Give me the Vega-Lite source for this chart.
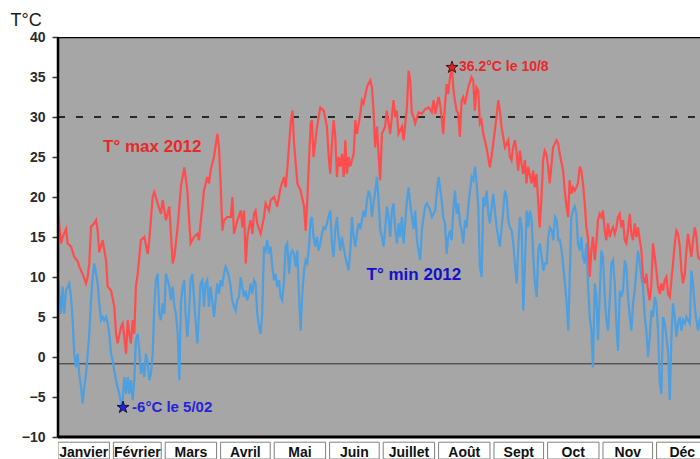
{
  "$schema": "https://vega.github.io/schema/vega-lite/v6.json",
  "width": 642,
  "height": 422,
  "autosize": {"type": "none"},
  "padding": {"left": 58, "top": 37, "right": 0, "bottom": 0},
  "background": "white",
  "config": {
    "view": {"stroke": null},
    "font": "Liberation Sans",
    "axis": {"labelFontWeight": 700},
    "axisY": {
      "domain": false, "grid": false,
      "ticks": true, "tickSize": 6, "tickColor": "#333333", "tickWidth": 1.5,
      "labelFont": "Liberation Sans", "labelFontSize": 14, "labelFontWeight": 700, "labelColor": "#2a2a2a", "labelPadding": 7,
      "titleAngle": 0, "titleX": -48, "titleY": -12, "titleAlign": "left", "titleBaseline": "alphabetic",
      "titleFont": "Liberation Sans", "titleFontSize": 18, "titleFontWeight": "normal", "titleColor": "#1a1a1a"
    }
  },
  "datasets": {
    "tmax": [
      {"day":0,"temp":18.3},{"day":1.7,"temp":14.2},{"day":2.6,"temp":15},{"day":4.5,"temp":16},{"day":5.4,"temp":14.2},{"day":7.3,"temp":13.8},{"day":9.1,"temp":12.5},{"day":11,"temp":12},{"day":11.9,"temp":11.3},{"day":13.8,"temp":10.4},{"day":15.7,"temp":9.2},{"day":16.6,"temp":10},{"day":17.5,"temp":11.7},{"day":18.5,"temp":16.3},{"day":20.3,"temp":16.7},{"day":21.3,"temp":17.1},{"day":22.2,"temp":15.8},{"day":23.1,"temp":13.1},{"day":25,"temp":14.6},{"day":26.9,"temp":12.1},{"day":27.8,"temp":8.8},{"day":29.7,"temp":8.3},{"day":31.5,"temp":6.3},{"day":32.5,"temp":2.9},{"day":33.4,"temp":1.7},{"day":35.3,"temp":3.8},{"day":36.2,"temp":4.2},{"day":37.1,"temp":2.5},{"day":38.1,"temp":0.4},{"day":39,"temp":4.6},{"day":39.9,"temp":2.9},{"day":40.8,"temp":1.7},{"day":41.8,"temp":4.6},{"day":42.7,"temp":2.9},{"day":43.6,"temp":8.8},{"day":44.6,"temp":10.4},{"day":46.4,"temp":14.6},{"day":48.3,"temp":15},{"day":50.2,"temp":12.9},{"day":51.1,"temp":14.6},{"day":53,"temp":20},{"day":53.9,"temp":20.6},{"day":55.8,"temp":19.2},{"day":57.6,"temp":17.9},{"day":58.6,"temp":19.6},{"day":60.4,"temp":17.1},{"day":62.3,"temp":18.8},{"day":63.2,"temp":15.4},{"day":64.2,"temp":11.7},{"day":65.1,"temp":12.5},{"day":67,"temp":16.3},{"day":68.8,"temp":21.3},{"day":70.7,"temp":23.7},{"day":72.4,"temp":20.8},{"day":74.2,"temp":14.2},{"day":76.1,"temp":15},{"day":78,"temp":15.4},{"day":78.9,"temp":14.6},{"day":79.8,"temp":16.7},{"day":81.7,"temp":20.8},{"day":83.5,"temp":22.5},{"day":84.5,"temp":21.7},{"day":85.4,"temp":23.3},{"day":87.3,"temp":25},{"day":89.2,"temp":27.9},{"day":90.1,"temp":26.2},{"day":91,"temp":21.7},{"day":92,"temp":15.8},{"day":92.9,"temp":17.1},{"day":94.8,"temp":17.5},{"day":96.7,"temp":17.5},{"day":97.6,"temp":20},{"day":98.5,"temp":15.4},{"day":100.4,"temp":17.1},{"day":102.3,"temp":18.3},{"day":103.2,"temp":16.2},{"day":104.1,"temp":18.3},{"day":105.1,"temp":11.7},{"day":106,"temp":15},{"day":106.9,"temp":16.2},{"day":107.8,"temp":17.1},{"day":108.8,"temp":15.4},{"day":109.7,"temp":17.9},{"day":110.6,"temp":18.3},{"day":111.5,"temp":16.7},{"day":113.4,"temp":15.4},{"day":115.3,"temp":17.5},{"day":116.2,"temp":19.2},{"day":118.1,"temp":18.3},{"day":119,"temp":19.6},{"day":120.9,"temp":20},{"day":122.7,"temp":18.8},{"day":124.6,"temp":21.2},{"day":126.5,"temp":22.5},{"day":127.4,"temp":21.2},{"day":128.4,"temp":23.7},{"day":130.2,"temp":29.2},{"day":131.2,"temp":30.8},{"day":132.1,"temp":26.7},{"day":134,"temp":21.7},{"day":135.8,"temp":20.8},{"day":137.7,"temp":18.8},{"day":138.6,"temp":15.8},{"day":139.6,"temp":20},{"day":141.4,"temp":29.2},{"day":142.1,"temp":29.6},{"day":143,"temp":25},{"day":145,"temp":28.8},{"day":146.8,"temp":31.2},{"day":148.7,"temp":30.8},{"day":150.5,"temp":28.8},{"day":151.5,"temp":25},{"day":152.4,"temp":22.9},{"day":153.3,"temp":26.7},{"day":154.3,"temp":29.6},{"day":155.2,"temp":27.5},{"day":156.1,"temp":22.5},{"day":157,"temp":25},{"day":158,"temp":23.8},{"day":158.9,"temp":25.4},{"day":159.9,"temp":22.5},{"day":160.8,"temp":27.1},{"day":161.7,"temp":22.9},{"day":162.7,"temp":25},{"day":163.6,"temp":23.8},{"day":164.5,"temp":24.6},{"day":165.5,"temp":25.4},{"day":166.4,"temp":29.6},{"day":167.3,"temp":27.9},{"day":169.2,"temp":30.4},{"day":170.1,"temp":32.1},{"day":171,"temp":31.7},{"day":172.9,"temp":33.7},{"day":173.8,"temp":34.2},{"day":174.8,"temp":34.6},{"day":175.7,"temp":33.7},{"day":176.6,"temp":30.8},{"day":177.5,"temp":26.2},{"day":178.5,"temp":28.8},{"day":179.4,"temp":25.4},{"day":180.3,"temp":22.1},{"day":181.3,"temp":27.9},{"day":183.1,"temp":28.8},{"day":184,"temp":30.8},{"day":185.9,"temp":27.9},{"day":187.8,"temp":32.1},{"day":188.7,"temp":30},{"day":189.6,"temp":30.8},{"day":190.6,"temp":27.9},{"day":192.5,"temp":28.8},{"day":193.4,"temp":27.1},{"day":195.3,"temp":31.2},{"day":196.2,"temp":35.8},{"day":197.1,"temp":34.6},{"day":198,"temp":30.6},{"day":199,"temp":30},{"day":199.9,"temp":29.2},{"day":201.8,"temp":30.6},{"day":203.6,"temp":30.4},{"day":205.5,"temp":31},{"day":207.4,"temp":31.2},{"day":209.2,"temp":30.6},{"day":210.2,"temp":32.1},{"day":211.1,"temp":30.4},{"day":213,"temp":32.5},{"day":213.9,"temp":31.5},{"day":214.7,"temp":30},{"day":215.6,"temp":27.9},{"day":216.6,"temp":31.6},{"day":217.5,"temp":34.1},{"day":218.4,"temp":32.9},{"day":219.4,"temp":35},{"day":220.5,"temp":36.2},{"day":221.2,"temp":33.7},{"day":222.1,"temp":32.1},{"day":223.1,"temp":30.8},{"day":224,"temp":30.4},{"day":224.9,"temp":27.5},{"day":225.9,"temp":32.1},{"day":226.8,"temp":32.5},{"day":227.7,"temp":31.6},{"day":229.6,"temp":33.7},{"day":231.4,"temp":35},{"day":232.4,"temp":34.6},{"day":233.3,"temp":30.8},{"day":234.2,"temp":33.7},{"day":235.2,"temp":33.3},{"day":236.1,"temp":29.2},{"day":237,"temp":29.6},{"day":238,"temp":27.9},{"day":239.8,"temp":26.2},{"day":241.7,"temp":23.7},{"day":242.6,"temp":25},{"day":243.6,"temp":26.7},{"day":245.4,"temp":30},{"day":246.4,"temp":32.1},{"day":247.3,"temp":30.8},{"day":248.2,"temp":28.8},{"day":250.1,"temp":26.2},{"day":252,"temp":27.1},{"day":252.9,"temp":25},{"day":253.8,"temp":24.6},{"day":254.7,"temp":26.2},{"day":255.7,"temp":27.1},{"day":256.6,"temp":25.8},{"day":257.5,"temp":23.3},{"day":258.5,"temp":25.8},{"day":259.4,"temp":24.2},{"day":260.3,"temp":22.9},{"day":261.3,"temp":24.6},{"day":262.2,"temp":21.7},{"day":263.1,"temp":23.8},{"day":265,"temp":21.7},{"day":265.9,"temp":23.3},{"day":266.8,"temp":21.2},{"day":267.8,"temp":22.9},{"day":268.7,"temp":19.6},{"day":269.6,"temp":16.2},{"day":270.6,"temp":20},{"day":271.5,"temp":24.6},{"day":272.4,"temp":25.8},{"day":273.3,"temp":25.4},{"day":274.3,"temp":23.8},{"day":275.2,"temp":21.7},{"day":277.1,"temp":26.2},{"day":279,"temp":27.1},{"day":279.9,"temp":26.7},{"day":280.8,"temp":25.4},{"day":282.7,"temp":23.3},{"day":283.6,"temp":20.8},{"day":284.6,"temp":18.8},{"day":285.5,"temp":17.5},{"day":286.3,"temp":22.1},{"day":287.3,"temp":20.4},{"day":288.2,"temp":21.2},{"day":289.2,"temp":20.8},{"day":290.1,"temp":21.2},{"day":291,"temp":21.7},{"day":292,"temp":23.8},{"day":292.9,"temp":23.3},{"day":293.8,"temp":21.7},{"day":294.8,"temp":19.2},{"day":295.7,"temp":16.2},{"day":296.6,"temp":15},{"day":297.6,"temp":10},{"day":298.5,"temp":13.3},{"day":299.4,"temp":15},{"day":300.4,"temp":12.1},{"day":301.3,"temp":14.2},{"day":302.2,"temp":17.1},{"day":303.2,"temp":17.9},{"day":304.1,"temp":17.5},{"day":305,"temp":18.3},{"day":306,"temp":15.8},{"day":306.9,"temp":14.6},{"day":307.8,"temp":16.7},{"day":308.8,"temp":15},{"day":309.7,"temp":15.8},{"day":310.6,"temp":16.2},{"day":311.6,"temp":15.4},{"day":312.5,"temp":16.2},{"day":313.4,"temp":17.5},{"day":314.4,"temp":17.9},{"day":315.3,"temp":16.2},{"day":316.2,"temp":17.1},{"day":317.2,"temp":14.6},{"day":318.1,"temp":14.2},{"day":319,"temp":15.8},{"day":320,"temp":17.9},{"day":320.9,"temp":15.4},{"day":321.8,"temp":14.6},{"day":322.8,"temp":16.7},{"day":323.7,"temp":15},{"day":324.6,"temp":16.2},{"day":325.6,"temp":14.6},{"day":326.5,"temp":13.3},{"day":327.4,"temp":10},{"day":328.4,"temp":9.2},{"day":329.3,"temp":10.4},{"day":330.2,"temp":8.3},{"day":331.2,"temp":7.1},{"day":332.1,"temp":9.2},{"day":333,"temp":14.2},{"day":334,"temp":12.5},{"day":334.9,"temp":10.8},{"day":335.8,"temp":8.8},{"day":336.8,"temp":7.9},{"day":337.7,"temp":9.2},{"day":338.6,"temp":8.3},{"day":339.6,"temp":9.6},{"day":340.5,"temp":10},{"day":341.4,"temp":7.9},{"day":342.4,"temp":7.5},{"day":343.3,"temp":9.6},{"day":344.2,"temp":11.7},{"day":345.2,"temp":14.2},{"day":346.1,"temp":15.8},{"day":347,"temp":15.4},{"day":348,"temp":13.8},{"day":348.9,"temp":10.8},{"day":349.8,"temp":9.2},{"day":350.8,"temp":10.4},{"day":351.7,"temp":13.3},{"day":352.6,"temp":15.4},{"day":353.6,"temp":13.8},{"day":354.5,"temp":12.5},{"day":355.4,"temp":14.6},{"day":356.4,"temp":16.2},{"day":357.3,"temp":15},{"day":358.2,"temp":12.5},{"day":359.3,"temp":12.1}
    ],
    "tmin": [
      {"day":0,"temp":10},{"day":1.7,"temp":5.4},{"day":2.6,"temp":8.8},{"day":3.5,"temp":5.4},{"day":4.5,"temp":8.3},{"day":6.3,"temp":9.2},{"day":7.3,"temp":7.5},{"day":8.2,"temp":4.6},{"day":9.1,"temp":0.4},{"day":10.1,"temp":-1.3},{"day":11,"temp":0.4},{"day":11.9,"temp":-2.1},{"day":12.9,"temp":-3.8},{"day":13.8,"temp":-5.8},{"day":14.7,"temp":-3.8},{"day":15.7,"temp":-2.1},{"day":16.6,"temp":0.4},{"day":17.5,"temp":2.9},{"day":18.5,"temp":7.1},{"day":19.4,"temp":10},{"day":20.3,"temp":11.7},{"day":21.3,"temp":10.4},{"day":22.2,"temp":9.2},{"day":23.1,"temp":6.7},{"day":24.1,"temp":4.6},{"day":25,"temp":5},{"day":25.9,"temp":4.6},{"day":26.9,"temp":5},{"day":27.8,"temp":4.2},{"day":28.7,"temp":2.9},{"day":29.7,"temp":0.4},{"day":30.6,"temp":-0.4},{"day":31.5,"temp":-1.7},{"day":32.5,"temp":-2.9},{"day":33.4,"temp":-3.8},{"day":34.3,"temp":-4.6},{"day":35.3,"temp":-5.8},{"day":36.2,"temp":-5.4},{"day":37.1,"temp":-2.5},{"day":38.1,"temp":-4.6},{"day":39,"temp":-2.5},{"day":39.9,"temp":-4.6},{"day":40.8,"temp":-2.9},{"day":41.8,"temp":-5.4},{"day":42.7,"temp":-2.9},{"day":43.6,"temp":2.1},{"day":44.6,"temp":2.9},{"day":45.5,"temp":0.8},{"day":46.4,"temp":-2.1},{"day":47.4,"temp":-0.8},{"day":48.3,"temp":-2.5},{"day":49.2,"temp":0.4},{"day":50.2,"temp":-0.8},{"day":51.1,"temp":-2.9},{"day":52,"temp":-2.1},{"day":53,"temp":0.4},{"day":53.9,"temp":6.3},{"day":54.8,"temp":9.6},{"day":55.8,"temp":10.4},{"day":56.7,"temp":5.4},{"day":57.6,"temp":4.6},{"day":58.6,"temp":6.7},{"day":59.5,"temp":5.4},{"day":60.4,"temp":10.4},{"day":61.4,"temp":9.6},{"day":62.3,"temp":8.8},{"day":63.2,"temp":7.1},{"day":64.2,"temp":8.8},{"day":65.1,"temp":6.3},{"day":66,"temp":5.4},{"day":67,"temp":2.9},{"day":67.9,"temp":-2.9},{"day":68.8,"temp":6.7},{"day":69.8,"temp":8.8},{"day":70.7,"temp":9.6},{"day":71.4,"temp":5.4},{"day":72.4,"temp":2.5},{"day":73.3,"temp":5.4},{"day":74.2,"temp":9.6},{"day":75.2,"temp":10.4},{"day":76.1,"temp":7.5},{"day":77,"temp":4.6},{"day":78,"temp":1.7},{"day":78.9,"temp":5.4},{"day":79.8,"temp":9.2},{"day":80.8,"temp":9.6},{"day":81.7,"temp":6.3},{"day":82.6,"temp":9.2},{"day":83.5,"temp":9.6},{"day":84.5,"temp":6.3},{"day":85.4,"temp":8.8},{"day":86.3,"temp":7.1},{"day":87.3,"temp":5},{"day":88.2,"temp":7.1},{"day":89.1,"temp":9.2},{"day":90.1,"temp":7.9},{"day":91,"temp":9.6},{"day":91.9,"temp":8.8},{"day":92.9,"temp":10.4},{"day":93.8,"temp":11.3},{"day":94.7,"temp":10.8},{"day":95.7,"temp":10},{"day":96.6,"temp":8.8},{"day":97.5,"temp":7.1},{"day":98.5,"temp":6.3},{"day":99.4,"temp":5.8},{"day":100.3,"temp":7.1},{"day":101.3,"temp":7.5},{"day":102.2,"temp":10},{"day":103.1,"temp":8.8},{"day":104.1,"temp":7.5},{"day":105,"temp":8.3},{"day":105.9,"temp":7.1},{"day":106.9,"temp":7.9},{"day":107.8,"temp":9.2},{"day":108.7,"temp":7.9},{"day":109.7,"temp":9.6},{"day":110.6,"temp":9.2},{"day":111.5,"temp":5.4},{"day":112.5,"temp":3.8},{"day":113.4,"temp":2.9},{"day":114.3,"temp":5.4},{"day":115.3,"temp":13.8},{"day":116.2,"temp":13.3},{"day":117.1,"temp":14.6},{"day":118.1,"temp":12.9},{"day":119,"temp":13.8},{"day":119.9,"temp":11.3},{"day":120.9,"temp":9.6},{"day":121.8,"temp":10.4},{"day":122.7,"temp":8.8},{"day":123.7,"temp":9.6},{"day":124.6,"temp":7.5},{"day":125.5,"temp":7.1},{"day":126.5,"temp":9.6},{"day":127.4,"temp":13.8},{"day":128.3,"temp":14.2},{"day":129.3,"temp":10.4},{"day":130.2,"temp":12.9},{"day":131.1,"temp":13.3},{"day":132.1,"temp":12.9},{"day":133,"temp":11.3},{"day":133.9,"temp":13.3},{"day":134.9,"temp":7.5},{"day":135.8,"temp":3.3},{"day":136.7,"temp":7.9},{"day":137.7,"temp":10.8},{"day":138.6,"temp":12.1},{"day":139.5,"temp":11.7},{"day":140.5,"temp":13.8},{"day":141.4,"temp":17.1},{"day":142.1,"temp":17.5},{"day":143,"temp":15},{"day":144,"temp":13.8},{"day":144.9,"temp":15},{"day":145.8,"temp":13.3},{"day":146.8,"temp":14.2},{"day":147.7,"temp":15.4},{"day":148.6,"temp":16.2},{"day":149.6,"temp":16},{"day":150.5,"temp":16.7},{"day":151.4,"temp":17.5},{"day":152.4,"temp":18.3},{"day":153.3,"temp":14.2},{"day":154.2,"temp":12.5},{"day":155.2,"temp":16},{"day":156.1,"temp":17.5},{"day":157,"temp":15},{"day":158,"temp":13.3},{"day":158.9,"temp":15},{"day":159.8,"temp":13.8},{"day":160.8,"temp":12.5},{"day":161.7,"temp":11.7},{"day":162.6,"temp":10.8},{"day":163.6,"temp":13.3},{"day":164.5,"temp":17.5},{"day":165.4,"temp":15},{"day":166.4,"temp":13.8},{"day":167.3,"temp":15.4},{"day":168.2,"temp":16.7},{"day":169.2,"temp":16},{"day":170.1,"temp":17.1},{"day":171,"temp":18.3},{"day":172,"temp":17.5},{"day":172.9,"temp":19.6},{"day":173.8,"temp":20.8},{"day":174.8,"temp":20},{"day":175.7,"temp":17.5},{"day":176.6,"temp":19.2},{"day":177.6,"temp":20.8},{"day":178.5,"temp":22.5},{"day":179.4,"temp":19.6},{"day":180.3,"temp":16},{"day":181.3,"temp":15},{"day":182.2,"temp":13.8},{"day":183.1,"temp":16},{"day":184.1,"temp":18.8},{"day":185,"temp":17.5},{"day":185.9,"temp":15},{"day":186.9,"temp":18.3},{"day":187.8,"temp":19.2},{"day":188.7,"temp":16.2},{"day":189.7,"temp":14.2},{"day":190.6,"temp":16.7},{"day":191.5,"temp":15},{"day":192.5,"temp":17.5},{"day":193.4,"temp":14.2},{"day":194.3,"temp":16.7},{"day":195.3,"temp":19.6},{"day":196.2,"temp":21.2},{"day":197.1,"temp":19.2},{"day":198.1,"temp":17.5},{"day":199,"temp":16},{"day":199.9,"temp":18.3},{"day":200.9,"temp":14.6},{"day":201.8,"temp":13.3},{"day":202.7,"temp":12.1},{"day":203.7,"temp":16},{"day":204.6,"temp":17.5},{"day":205.5,"temp":18.8},{"day":206.5,"temp":19.2},{"day":207.4,"temp":18.8},{"day":208.3,"temp":18.3},{"day":209.3,"temp":17.5},{"day":210.2,"temp":17.9},{"day":211.1,"temp":18.3},{"day":212.1,"temp":20.8},{"day":213,"temp":22.5},{"day":213.9,"temp":21},{"day":214.7,"temp":19.6},{"day":215.6,"temp":17.5},{"day":216.6,"temp":16.7},{"day":217.5,"temp":12.9},{"day":218.4,"temp":15},{"day":219.4,"temp":15.8},{"day":220.3,"temp":14.6},{"day":221.2,"temp":18.3},{"day":222.2,"temp":20.8},{"day":223.1,"temp":17.9},{"day":224,"temp":19.2},{"day":225,"temp":16.7},{"day":225.9,"temp":15.8},{"day":226.8,"temp":14.2},{"day":227.8,"temp":17.1},{"day":228.7,"temp":16.2},{"day":229.6,"temp":18.8},{"day":230.6,"temp":20.8},{"day":231.5,"temp":22.5},{"day":232.4,"temp":22.1},{"day":233.4,"temp":23.8},{"day":234.3,"temp":21.7},{"day":235.2,"temp":18.8},{"day":236.1,"temp":11.3},{"day":237.1,"temp":10},{"day":238,"temp":20},{"day":238.9,"temp":18.8},{"day":239.9,"temp":20.8},{"day":240.8,"temp":17.9},{"day":241.7,"temp":16.7},{"day":242.7,"temp":18.8},{"day":243.6,"temp":20.4},{"day":244.5,"temp":18.3},{"day":245.5,"temp":16.2},{"day":246.4,"temp":15},{"day":247.3,"temp":13.8},{"day":248.3,"temp":16.2},{"day":249.2,"temp":18.3},{"day":250.1,"temp":20.8},{"day":251.1,"temp":20},{"day":252,"temp":17.1},{"day":252.9,"temp":16.2},{"day":253.9,"temp":15.8},{"day":254.8,"temp":14.2},{"day":255.7,"temp":11.7},{"day":256.7,"temp":9.2},{"day":257.6,"temp":13.8},{"day":258.5,"temp":17.5},{"day":259.5,"temp":16.2},{"day":260.4,"temp":5.8},{"day":261.3,"temp":11.3},{"day":262.3,"temp":18.3},{"day":263.2,"temp":16.2},{"day":264.1,"temp":18.3},{"day":265.1,"temp":17.1},{"day":266,"temp":12.5},{"day":266.9,"temp":9.2},{"day":267.9,"temp":7.5},{"day":268.8,"temp":13.3},{"day":269.7,"temp":14.2},{"day":270.7,"temp":12.5},{"day":271.6,"temp":10.8},{"day":272.5,"temp":11.7},{"day":273.5,"temp":11.7},{"day":274.4,"temp":15},{"day":275.3,"temp":16.2},{"day":276.3,"temp":15.8},{"day":277.2,"temp":14.6},{"day":278.1,"temp":17.5},{"day":279.1,"temp":17.1},{"day":280,"temp":14.6},{"day":280.9,"temp":14.6},{"day":281.9,"temp":13.3},{"day":282.8,"temp":11.3},{"day":283.7,"temp":9.2},{"day":284.7,"temp":6.7},{"day":285.6,"temp":3.3},{"day":286.3,"temp":9.2},{"day":287.3,"temp":17.5},{"day":288.2,"temp":18.3},{"day":289.2,"temp":18.8},{"day":290.1,"temp":17.9},{"day":291,"temp":14.2},{"day":292,"temp":13.3},{"day":292.9,"temp":15},{"day":293.8,"temp":12.5},{"day":294.8,"temp":11.7},{"day":295.7,"temp":14.2},{"day":296.6,"temp":9.2},{"day":297.6,"temp":5},{"day":298.5,"temp":3.3},{"day":299.4,"temp":-1.3},{"day":300.4,"temp":9.2},{"day":301.3,"temp":7.5},{"day":302.2,"temp":2.1},{"day":303.2,"temp":7.9},{"day":304.1,"temp":13.3},{"day":305,"temp":12.5},{"day":306,"temp":7.5},{"day":306.9,"temp":4.6},{"day":307.8,"temp":3.3},{"day":308.8,"temp":7.1},{"day":309.7,"temp":11.7},{"day":310.6,"temp":12.1},{"day":311.6,"temp":9.2},{"day":312.5,"temp":4.2},{"day":313.4,"temp":0.8},{"day":314.4,"temp":8.3},{"day":315.3,"temp":7.5},{"day":316.2,"temp":8.3},{"day":317.2,"temp":12.1},{"day":318.1,"temp":11.3},{"day":319,"temp":7.5},{"day":320,"temp":5},{"day":320.9,"temp":3.3},{"day":321.8,"temp":6.7},{"day":322.8,"temp":8.3},{"day":323.7,"temp":10.8},{"day":324.6,"temp":13.3},{"day":325.6,"temp":11.7},{"day":326.5,"temp":10},{"day":327.4,"temp":8.8},{"day":328.4,"temp":5},{"day":329.3,"temp":3.3},{"day":330.2,"temp":0},{"day":331.2,"temp":2.5},{"day":332.1,"temp":5.8},{"day":333,"temp":5},{"day":334,"temp":7.5},{"day":334.9,"temp":6.7},{"day":335.8,"temp":3.3},{"day":336.8,"temp":-3.3},{"day":337.7,"temp":-4.6},{"day":338.6,"temp":5},{"day":339.6,"temp":4.2},{"day":340.5,"temp":2.5},{"day":341.4,"temp":0.8},{"day":342.4,"temp":-5.4},{"day":343.3,"temp":2.5},{"day":344.2,"temp":6.7},{"day":345.2,"temp":5},{"day":346.1,"temp":2.5},{"day":347,"temp":4.2},{"day":348,"temp":5},{"day":348.9,"temp":3.3},{"day":349.8,"temp":4.6},{"day":350.8,"temp":4.2},{"day":351.7,"temp":5},{"day":352.6,"temp":4.6},{"day":353.6,"temp":4.2},{"day":354.5,"temp":10.8},{"day":355.4,"temp":9.2},{"day":356.4,"temp":6.2},{"day":357.3,"temp":4.6},{"day":358.2,"temp":3.3},{"day":359.3,"temp":5}
    ],
    "months": [
      {"month":"Janvier","start":0,"end":31,"mid":15.5},
      {"month":"Février","start":31,"end":60,"mid":45.5},
      {"month":"Mars","start":60,"end":91,"mid":75.5},
      {"month":"Avril","start":91,"end":121,"mid":106},
      {"month":"Mai","start":121,"end":152,"mid":136.5},
      {"month":"Juin","start":152,"end":182,"mid":167},
      {"month":"Juillet","start":182,"end":213,"mid":197.5},
      {"month":"Août","start":213,"end":244,"mid":228.5},
      {"month":"Sept","start":244,"end":274,"mid":259},
      {"month":"Oct","start":274,"end":305,"mid":289.5},
      {"month":"Nov","start":305,"end":335,"mid":320},
      {"month":"Déc","start":335,"end":366,"mid":350.5}
    ]
  },
  "layer": [
    {
      "data": {"values": [{}]},
      "mark": {"type": "rect", "fill": "#a6a6a6", "clip": true},
      "encoding": {
        "x": {"datum": 0, "type": "quantitative", "scale": {"domain": [0, 359.3], "nice": false, "zero": false}, "axis": null},
        "x2": {"datum": 366},
        "y": {"datum": -10, "type": "quantitative", "scale": {"domain": [-12.75, 40], "nice": false, "zero": false},
          "axis": {
            "values": [-10, -5, 0, 5, 10, 15, 20, 25, 30, 35, 40], "title": "T°C",
            "domain": false, "grid": false,
            "ticks": true, "tickSize": 6, "tickColor": "#333333", "tickWidth": 1.5,
            "labelFont": "Liberation Sans", "labelFontSize": 14, "labelFontWeight": 700, "labelColor": "#2a2a2a", "labelPadding": 7,
            "titleAngle": 0, "titleX": -48, "titleY": -12, "titleAlign": "left", "titleBaseline": "alphabetic",
            "titleFont": "Liberation Sans", "titleFontSize": 18, "titleFontWeight": "normal", "titleColor": "#1a1a1a"
          }},
        "y2": {"datum": 40}
      }
    },
    {
      "data": {"values": [{}]},
      "mark": {"type": "rule", "color": "#333333", "strokeWidth": 1, "clip": true},
      "encoding": {
        "x": {"datum": 0, "type": "quantitative", "axis": null},
        "x2": {"datum": 366},
        "y": {"datum": -0.85, "type": "quantitative"}
      }
    },
    {
      "data": {"values": [{}]},
      "mark": {"type": "rule", "color": "#000000", "strokeWidth": 1.5, "strokeDash": [7, 11], "clip": true},
      "encoding": {
        "x": {"datum": 0, "type": "quantitative", "axis": null},
        "x2": {"datum": 366},
        "y": {"datum": 30, "type": "quantitative"}
      }
    },
    {
      "data": {"name": "tmin"},
      "mark": {"type": "line", "color": "#4d9fe0", "strokeWidth": 2.2, "clip": true},
      "encoding": {
        "x": {"field": "day", "type": "quantitative", "axis": null},
        "y": {"field": "temp", "type": "quantitative"}
      }
    },
    {
      "data": {"name": "tmax"},
      "mark": {"type": "line", "color": "#ff4d4d", "strokeWidth": 2.2, "clip": true},
      "encoding": {
        "x": {"field": "day", "type": "quantitative", "axis": null},
        "y": {"field": "temp", "type": "quantitative"}
      }
    },
    {
      "data": {"values": [{}]},
      "mark": {"type": "rule", "color": "#000000", "strokeWidth": 2.5},
      "encoding": {
        "x": {"datum": 0, "type": "quantitative", "axis": null},
        "y": {"datum": -10, "type": "quantitative"},
        "y2": {"datum": 40}
      }
    },
    {
      "data": {"values": [{}]},
      "mark": {"type": "rule", "color": "#000000", "strokeWidth": 2.5, "clip": true},
      "encoding": {
        "x": {"datum": 0, "type": "quantitative", "axis": null},
        "x2": {"datum": 366},
        "y": {"datum": 40, "type": "quantitative"}
      }
    },
    {
      "data": {"values": [{}]},
      "mark": {"type": "rule", "color": "#000000", "strokeWidth": 3, "clip": true},
      "encoding": {
        "x": {"datum": 0, "type": "quantitative", "axis": null},
        "x2": {"datum": 366},
        "y": {"datum": -10, "type": "quantitative"}
      }
    },
    {
      "data": {"name": "months"},
      "mark": {"type": "rect", "fill": "white", "stroke": "#808080", "strokeWidth": 1, "x2Offset": -4, "clip": true},
      "encoding": {
        "x": {"field": "start", "type": "quantitative", "axis": null},
        "x2": {"field": "end"},
        "y": {"datum": -10.65, "type": "quantitative"},
        "y2": {"datum": -12.75}
      }
    },
    {
      "data": {"name": "months"},
      "mark": {"type": "text", "font": "Liberation Sans", "fontSize": 14, "fontWeight": "bold", "color": "#111111", "align": "center", "baseline": "alphabetic", "dx": -2, "clip": true},
      "encoding": {
        "x": {"field": "mid", "type": "quantitative", "axis": null},
        "y": {"datum": -12.5, "type": "quantitative"},
        "text": {"field": "month"}
      }
    },
    {
      "data": {"values": [{"day": 25.2, "temp": 26.3, "label": "T° max 2012"}]},
      "mark": {"type": "text", "font": "Liberation Sans", "fontSize": 17, "fontWeight": "bold", "color": "#e8282a", "align": "left", "baseline": "middle"},
      "encoding": {
        "x": {"field": "day", "type": "quantitative", "axis": null},
        "y": {"field": "temp", "type": "quantitative"},
        "text": {"field": "label"}
      }
    },
    {
      "data": {"values": [{"day": 172.7, "temp": 10.2, "label": "T° min 2012"}]},
      "mark": {"type": "text", "font": "Liberation Sans", "fontSize": 17, "fontWeight": "bold", "color": "#1212c8", "align": "left", "baseline": "middle"},
      "encoding": {
        "x": {"field": "day", "type": "quantitative", "axis": null},
        "y": {"field": "temp", "type": "quantitative"},
        "text": {"field": "label"}
      }
    },
    {
      "data": {"values": [{"day": 220.5, "temp": 36.2, "label": "36.2°C le 10/8"}]},
      "mark": {"type": "text", "font": "Liberation Sans", "fontSize": 14, "fontWeight": "bold", "color": "#e8282a", "align": "left", "baseline": "middle", "dx": 7},
      "encoding": {
        "x": {"field": "day", "type": "quantitative", "axis": null},
        "y": {"field": "temp", "type": "quantitative"},
        "text": {"field": "label"}
      }
    },
    {
      "data": {"values": [{"day": 36.4, "temp": -6.3, "label": "-6°C le 5/02"}]},
      "mark": {"type": "text", "font": "Liberation Sans", "fontSize": 15, "fontWeight": "bold", "color": "#2424d8", "align": "left", "baseline": "middle", "dx": 9},
      "encoding": {
        "x": {"field": "day", "type": "quantitative", "axis": null},
        "y": {"field": "temp", "type": "quantitative"},
        "text": {"field": "label"}
      }
    },
    {
      "data": {"values": [{"day": 220.5, "temp": 36.2}]},
      "mark": {"type": "point", "shape": "M0,-1L0.225,-0.309L0.951,-0.309L0.363,0.118L0.588,0.809L0,0.382L-0.588,0.809L-0.363,0.118L-0.951,-0.309L-0.225,-0.309Z", "size": 160, "filled": true, "color": "#e02424", "stroke": "#4a1010", "strokeWidth": 1, "opacity": 1},
      "encoding": {
        "x": {"field": "day", "type": "quantitative", "axis": null},
        "y": {"field": "temp", "type": "quantitative"}
      }
    },
    {
      "data": {"values": [{"day": 36.4, "temp": -6.3}]},
      "mark": {"type": "point", "shape": "M0,-1L0.225,-0.309L0.951,-0.309L0.363,0.118L0.588,0.809L0,0.382L-0.588,0.809L-0.363,0.118L-0.951,-0.309L-0.225,-0.309Z", "size": 160, "filled": true, "color": "#2222dd", "stroke": "#101040", "strokeWidth": 1, "opacity": 1},
      "encoding": {
        "x": {"field": "day", "type": "quantitative", "axis": null},
        "y": {"field": "temp", "type": "quantitative"}
      }
    }
  ]
}
